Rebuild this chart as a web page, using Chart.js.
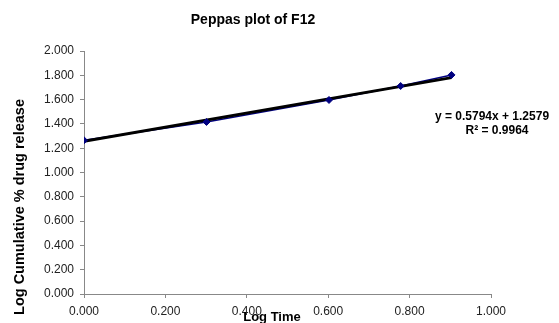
<!DOCTYPE html>
<html>
<head>
<meta charset="utf-8">
<script src="https://cdn.jsdelivr.net/npm/chart.js@4/dist/chart.umd.min.js"></script>
<style>
html,body{margin:0;padding:0;background:#fff;}
#wrap{width:559px;height:323px;position:relative;}
</style>
</head>
<body>
<div id="wrap"><canvas id="c" width="559" height="323"></canvas></div>
<script>
// Data
const logTime = [0.000, 0.301, 0.602, 0.778, 0.903];
const logRelease = [1.265, 1.416, 1.597, 1.712, 1.803];
const trendX = [0.000, 0.903];
const trendY = [1.258, 1.781];
const xTicks = [0.0, 0.2, 0.4, 0.6, 0.8, 1.0];
const yTicks = [0.0, 0.2, 0.4, 0.6, 0.8, 1.0, 1.2, 1.4, 1.6, 1.8, 2.0];
const chartTitle = 'Peppas plot of F12';
const xTitle = 'Log Time';
const yTitle = 'Log Cumulative % drug release';
const eqnText = 'y = 0.5794x + 1.2579';
const r2Text = 'R² = 0.9964';

const pts = logTime.map((x, i) => ({x: x, y: logRelease[i]}));
const trend = trendX.map((x, i) => ({x: x, y: trendY[i]}));

const FONT = '"Liberation Sans", Arial, sans-serif';

const textPlugin = {
  id: 'texts',
  afterDraw(chart) {
    const ctx = chart.ctx;
    ctx.save();
    ctx.fillStyle = '#000';
    ctx.textAlign = 'center';
    ctx.textBaseline = 'middle';
    ctx.font = 'bold 14px ' + FONT;
    ctx.fillText(chartTitle, 253, 20);
    ctx.font = 'bold 13px ' + FONT;
    ctx.fillText(xTitle, 272, 317);
    ctx.font = 'bold 12px ' + FONT;
    ctx.fillText(eqnText, 492, 117);
    ctx.fillText(r2Text, 497, 131);
    ctx.translate(20, 207);
    ctx.rotate(-Math.PI / 2);
    ctx.font = 'bold 14.5px ' + FONT;
    ctx.fillText(yTitle, 0, 0);
    ctx.restore();
  }
};

new Chart(document.getElementById('c'), {
  type: 'scatter',
  data: {
    datasets: [
      {
        label: 'markers',
        data: pts,
        showLine: false,
        pointStyle: 'rectRot',
        pointRadius: 3.5,
        backgroundColor: '#000080',
        borderColor: '#000080',
        borderWidth: 1,
        order: 0
      },
      {
        label: 'trend',
        data: trend,
        showLine: true,
        borderColor: '#000000',
        borderWidth: 3,
        pointRadius: 0,
        order: 1
      },
      {
        label: 'series',
        data: pts,
        showLine: true,
        borderColor: '#000080',
        borderWidth: 1.5,
        pointRadius: 0,
        order: 2
      }
    ]
  },
  options: {
    responsive: false,
    animation: false,
    layout: {padding: {left: 0, right: 68, top: 51, bottom: 0}},
    plugins: {legend: {display: false}, tooltip: {enabled: false}, title: {display: false}},
    scales: {
      x: {
        type: 'linear',
        min: 0, max: 1,
        afterBuildTicks: s => { s.ticks = xTicks.map(v => ({value: v})); },
        afterFit: s => { s.height = 29; },
        ticks: {
          callback: v => Number(v).toFixed(3),
          color: '#222',
          font: {family: FONT, size: 12},
          padding: 6,
          maxRotation: 0,
          autoSkip: false
        },
        grid: {drawOnChartArea: false, drawTicks: true, tickLength: 4, color: '#888'},
        border: {display: true, color: '#888', width: 1}
      },
      y: {
        min: 0, max: 2,
        afterBuildTicks: s => { s.ticks = yTicks.map(v => ({value: v})); },
        afterFit: s => { s.width = 84; },
        ticks: {
          callback: v => Number(v).toFixed(3),
          color: '#222',
          font: {family: FONT, size: 12},
          padding: 6,
          autoSkip: false
        },
        grid: {drawOnChartArea: false, drawTicks: true, tickLength: 4, color: '#888'},
        border: {display: true, color: '#888', width: 1}
      }
    }
  },
  plugins: [textPlugin]
});
</script>
</body>
</html>
